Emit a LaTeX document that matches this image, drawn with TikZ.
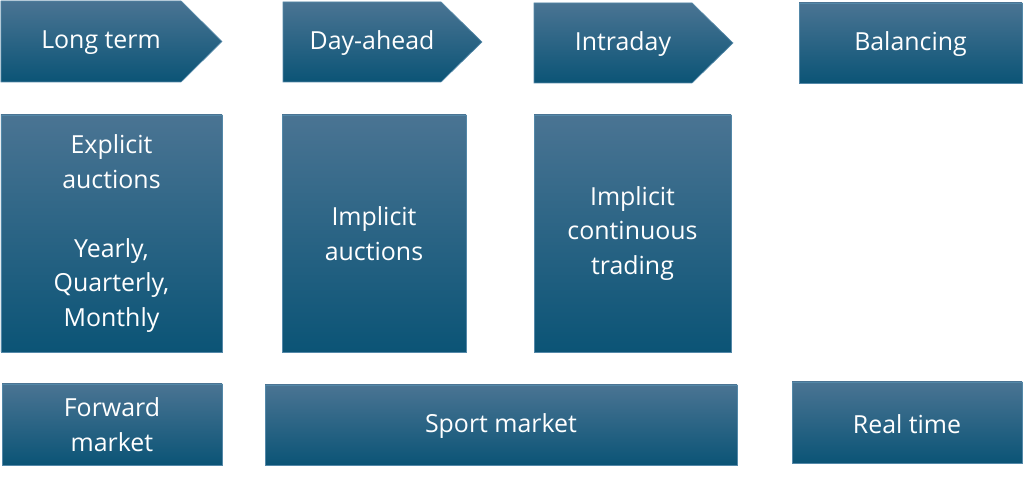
\documentclass[tikz,border=0pt]{standalone}
\usepackage{fontspec}
\setmainfont{Open Sans}
\definecolor{boxtop}{RGB}{74,116,147}
\definecolor{boxmid}{RGB}{17,94,130}
\definecolor{boxbot}{RGB}{11,84,118}
\definecolor{boxline}{RGB}{84,136,168}

\begin{document}
\begin{tikzpicture}[x=0.0254cm,y=-0.0254cm]
\tikzstyle{box}=[top color=boxtop,middle color=boxmid,bottom color=boxbot,draw=boxline,line width=0.5pt]
\tikzstyle{every node}=[text=white,align=center,font=\fontsize{18}{25}\selectfont]
\useasboundingbox (0,0) rectangle (1024,477);

% time stages
\shade[box] (1,1) -- (181,1) -- (222,41.5) -- (181,82) -- (1,82) -- cycle;
\shade[box] (283,2) -- (441,2) -- (482,42) -- (441,82) -- (283,82) -- cycle;
\shade[box] (534,3) -- (692,3) -- (733,43) -- (692,83) -- (534,83) -- cycle;
\shade[box] (799,3) rectangle (1022,83);
\node (lt) at (101,43) {Long term};
\node (da) at (372,43.5) {Day-ahead};
\node (id) at (623,44.5) {Intraday};
\node (bal) at (910.5,44.5) {Balancing};

% mechanisms
\shade[box] (1,115) rectangle (222,352);
\shade[box] (282,115) rectangle (466,352);
\shade[box] (534,115) rectangle (731,352);
\node (expl) at (111.5,233.5) {Explicit\\auctions\\[25pt]Yearly,\\Quarterly,\\Monthly};
\node (impl) at (374,233.5) {Implicit\\auctions};
\node (cont) at (632.5,233.5) {Implicit\\continuous\\trading};

% markets
\shade[box] (2,384) rectangle (222,465);
\shade[box] (265,385) rectangle (737,465);
\shade[box] (792,382) rectangle (1022,463);
\node (fwd) at (112,424.5) {Forward\\market};
\node (spot) at (501,426.5) {Sport market};
\node (rt) at (907,424) {Real time};
\end{tikzpicture}
\end{document}
